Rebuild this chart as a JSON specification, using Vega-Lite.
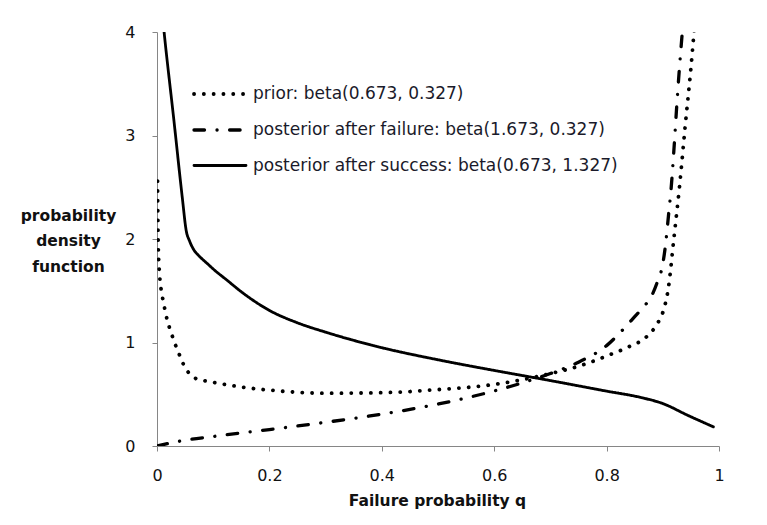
{
  "$schema": "https://vega.github.io/schema/vega-lite/v6.json",
  "width": 562,
  "height": 414,
  "autosize": {"type": "none"},
  "padding": {"left": 157, "top": 32, "right": 48, "bottom": 79},
  "background": "white",
  "config": {"view": {"stroke": null}, "font": "DejaVu Sans"},
  "data": {"values": [
    {"series": "prior: beta(0.673, 0.327)", "q": 0.001, "v": 2.56},
    {"series": "prior: beta(0.673, 0.327)", "q": 0.002, "v": 2.0},
    {"series": "prior: beta(0.673, 0.327)", "q": 0.004, "v": 1.70},
    {"series": "prior: beta(0.673, 0.327)", "q": 0.006, "v": 1.57},
    {"series": "prior: beta(0.673, 0.327)", "q": 0.008, "v": 1.49},
    {"series": "prior: beta(0.673, 0.327)", "q": 0.011, "v": 1.40},
    {"series": "prior: beta(0.673, 0.327)", "q": 0.014, "v": 1.32},
    {"series": "prior: beta(0.673, 0.327)", "q": 0.018, "v": 1.22},
    {"series": "prior: beta(0.673, 0.327)", "q": 0.023, "v": 1.13},
    {"series": "prior: beta(0.673, 0.327)", "q": 0.028, "v": 1.05},
    {"series": "prior: beta(0.673, 0.327)", "q": 0.034, "v": 0.96},
    {"series": "prior: beta(0.673, 0.327)", "q": 0.040, "v": 0.88},
    {"series": "prior: beta(0.673, 0.327)", "q": 0.047, "v": 0.79},
    {"series": "prior: beta(0.673, 0.327)", "q": 0.056, "v": 0.71},
    {"series": "prior: beta(0.673, 0.327)", "q": 0.068, "v": 0.655},
    {"series": "prior: beta(0.673, 0.327)", "q": 0.085, "v": 0.63},
    {"series": "prior: beta(0.673, 0.327)", "q": 0.1, "v": 0.615},
    {"series": "prior: beta(0.673, 0.327)", "q": 0.15, "v": 0.57},
    {"series": "prior: beta(0.673, 0.327)", "q": 0.2, "v": 0.54},
    {"series": "prior: beta(0.673, 0.327)", "q": 0.3, "v": 0.51},
    {"series": "prior: beta(0.673, 0.327)", "q": 0.4, "v": 0.515},
    {"series": "prior: beta(0.673, 0.327)", "q": 0.5, "v": 0.545},
    {"series": "prior: beta(0.673, 0.327)", "q": 0.6, "v": 0.595},
    {"series": "prior: beta(0.673, 0.327)", "q": 0.7, "v": 0.70},
    {"series": "prior: beta(0.673, 0.327)", "q": 0.75, "v": 0.77},
    {"series": "prior: beta(0.673, 0.327)", "q": 0.8, "v": 0.87},
    {"series": "prior: beta(0.673, 0.327)", "q": 0.84, "v": 0.96},
    {"series": "prior: beta(0.673, 0.327)", "q": 0.87, "v": 1.05},
    {"series": "prior: beta(0.673, 0.327)", "q": 0.89, "v": 1.18},
    {"series": "prior: beta(0.673, 0.327)", "q": 0.9, "v": 1.29},
    {"series": "prior: beta(0.673, 0.327)", "q": 0.91, "v": 1.53},
    {"series": "prior: beta(0.673, 0.327)", "q": 0.92, "v": 2.02},
    {"series": "prior: beta(0.673, 0.327)", "q": 0.93, "v": 2.52},
    {"series": "prior: beta(0.673, 0.327)", "q": 0.94, "v": 3.10},
    {"series": "prior: beta(0.673, 0.327)", "q": 0.95, "v": 3.65},
    {"series": "prior: beta(0.673, 0.327)", "q": 0.96, "v": 4.3},
    {"series": "posterior after failure: beta(1.673, 0.327)", "q": 0.0, "v": 0.0},
    {"series": "posterior after failure: beta(1.673, 0.327)", "q": 0.05, "v": 0.056},
    {"series": "posterior after failure: beta(1.673, 0.327)", "q": 0.1, "v": 0.092},
    {"series": "posterior after failure: beta(1.673, 0.327)", "q": 0.2, "v": 0.159},
    {"series": "posterior after failure: beta(1.673, 0.327)", "q": 0.3, "v": 0.229},
    {"series": "posterior after failure: beta(1.673, 0.327)", "q": 0.4, "v": 0.308},
    {"series": "posterior after failure: beta(1.673, 0.327)", "q": 0.5, "v": 0.405},
    {"series": "posterior after failure: beta(1.673, 0.327)", "q": 0.6, "v": 0.532},
    {"series": "posterior after failure: beta(1.673, 0.327)", "q": 0.65, "v": 0.61},
    {"series": "posterior after failure: beta(1.673, 0.327)", "q": 0.7, "v": 0.70},
    {"series": "posterior after failure: beta(1.673, 0.327)", "q": 0.75, "v": 0.81},
    {"series": "posterior after failure: beta(1.673, 0.327)", "q": 0.8, "v": 0.97},
    {"series": "posterior after failure: beta(1.673, 0.327)", "q": 0.83, "v": 1.13},
    {"series": "posterior after failure: beta(1.673, 0.327)", "q": 0.85, "v": 1.25},
    {"series": "posterior after failure: beta(1.673, 0.327)", "q": 0.87, "v": 1.37},
    {"series": "posterior after failure: beta(1.673, 0.327)", "q": 0.88, "v": 1.45},
    {"series": "posterior after failure: beta(1.673, 0.327)", "q": 0.89, "v": 1.58},
    {"series": "posterior after failure: beta(1.673, 0.327)", "q": 0.9, "v": 1.76},
    {"series": "posterior after failure: beta(1.673, 0.327)", "q": 0.905, "v": 1.95},
    {"series": "posterior after failure: beta(1.673, 0.327)", "q": 0.91, "v": 2.22},
    {"series": "posterior after failure: beta(1.673, 0.327)", "q": 0.915, "v": 2.5},
    {"series": "posterior after failure: beta(1.673, 0.327)", "q": 0.92, "v": 2.88},
    {"series": "posterior after failure: beta(1.673, 0.327)", "q": 0.925, "v": 3.3},
    {"series": "posterior after failure: beta(1.673, 0.327)", "q": 0.93, "v": 3.68},
    {"series": "posterior after failure: beta(1.673, 0.327)", "q": 0.935, "v": 4.02},
    {"series": "posterior after failure: beta(1.673, 0.327)", "q": 0.94, "v": 4.35},
    {"series": "posterior after success: beta(0.673, 1.327)", "q": 0.008, "v": 4.25},
    {"series": "posterior after success: beta(0.673, 1.327)", "q": 0.013, "v": 3.98},
    {"series": "posterior after success: beta(0.673, 1.327)", "q": 0.03, "v": 3.15},
    {"series": "posterior after success: beta(0.673, 1.327)", "q": 0.045, "v": 2.40},
    {"series": "posterior after success: beta(0.673, 1.327)", "q": 0.052, "v": 2.08},
    {"series": "posterior after success: beta(0.673, 1.327)", "q": 0.058, "v": 1.98},
    {"series": "posterior after success: beta(0.673, 1.327)", "q": 0.065, "v": 1.90},
    {"series": "posterior after success: beta(0.673, 1.327)", "q": 0.076, "v": 1.83},
    {"series": "posterior after success: beta(0.673, 1.327)", "q": 0.09, "v": 1.76},
    {"series": "posterior after success: beta(0.673, 1.327)", "q": 0.1, "v": 1.71},
    {"series": "posterior after success: beta(0.673, 1.327)", "q": 0.125, "v": 1.60},
    {"series": "posterior after success: beta(0.673, 1.327)", "q": 0.15, "v": 1.49},
    {"series": "posterior after success: beta(0.673, 1.327)", "q": 0.2, "v": 1.31},
    {"series": "posterior after success: beta(0.673, 1.327)", "q": 0.25, "v": 1.19},
    {"series": "posterior after success: beta(0.673, 1.327)", "q": 0.3, "v": 1.10},
    {"series": "posterior after success: beta(0.673, 1.327)", "q": 0.4, "v": 0.95},
    {"series": "posterior after success: beta(0.673, 1.327)", "q": 0.5, "v": 0.833},
    {"series": "posterior after success: beta(0.673, 1.327)", "q": 0.6, "v": 0.73},
    {"series": "posterior after success: beta(0.673, 1.327)", "q": 0.7, "v": 0.632},
    {"series": "posterior after success: beta(0.673, 1.327)", "q": 0.8, "v": 0.53},
    {"series": "posterior after success: beta(0.673, 1.327)", "q": 0.86, "v": 0.47},
    {"series": "posterior after success: beta(0.673, 1.327)", "q": 0.9, "v": 0.41},
    {"series": "posterior after success: beta(0.673, 1.327)", "q": 0.945, "v": 0.295},
    {"series": "posterior after success: beta(0.673, 1.327)", "q": 0.99, "v": 0.185}
  ]},
  "mark": {"type": "line", "clip": true, "interpolate": "monotone", "color": "black", "strokeCap": "round"},
  "encoding": {
    "x": {
      "field": "q", "type": "quantitative",
      "scale": {"domain": [0, 1], "nice": false, "zero": false},
      "axis": {
        "title": "Failure probability q",
        "values": [0, 0.2, 0.4, 0.6, 0.8, 1],
        "format": "~g",
        "grid": false,
        "domainColor": "#868686", "tickColor": "#868686", "tickSize": 5,
        "labelFlush": false,
        "labelFont": "DejaVu Sans", "labelFontSize": 16, "labelColor": "#111111",
        "labelBaseline": "alphabetic", "labelPadding": 29.5,
        "titleFont": "DejaVu Sans", "titleFontSize": 15.5, "titleFontWeight": "bold", "titleColor": "#111111",
        "titleBaseline": "alphabetic", "titleY": 59, "titleX": 280, "titleAlign": "center"
      }
    },
    "y": {
      "field": "v", "type": "quantitative",
      "scale": {"domain": [0, 4], "nice": false},
      "axis": {
        "title": ["probability", "density", "function"],
        "values": [0, 1, 2, 3, 4],
        "format": "d",
        "grid": false,
        "domainColor": "#868686", "tickColor": "#868686", "tickSize": 5,
        "labelFlush": false,
        "labelFont": "DejaVu Sans", "labelFontSize": 16, "labelColor": "#111111",
        "labelPadding": 17,
        "titleFont": "DejaVu Sans", "titleFontSize": 15.5, "titleFontWeight": "bold", "titleColor": "#111111",
        "titleAngle": 0, "titleAlign": "center", "titleBaseline": "alphabetic",
        "titleX": -89, "titleY": 188, "titleLineHeight": 25.5
      }
    },
    "strokeDash": {
      "field": "series", "type": "nominal",
      "scale": {
        "domain": ["prior: beta(0.673, 0.327)", "posterior after failure: beta(1.673, 0.327)", "posterior after success: beta(0.673, 1.327)"],
        "range": [[0.1, 9.7], [10.5, 12.5, 0.1, 12.5], [1, 0]]
      },
      "legend": {
        "title": null,
        "orient": "none",
        "legendX": 35,
        "legendY": 34,
        "padding": 0,
        "symbolType": "stroke",
        "symbolSize": 2704,
        "symbolStrokeColor": "black",
        "labelFont": "DejaVu Sans",
        "labelFontSize": 17,
        "labelColor": "#1a1a2a",
        "labelLimit": 500,
        "labelOffset": 5,
        "rowPadding": -19.3,
        "encode": {"symbols": {"update": {"strokeCap": {"value": "round"}}}}
      }
    },
    "strokeWidth": {
      "field": "series", "type": "nominal",
      "scale": {
        "domain": ["prior: beta(0.673, 0.327)", "posterior after failure: beta(1.673, 0.327)", "posterior after success: beta(0.673, 1.327)"],
        "range": [3.8, 2.8, 2.7]
      },
      "legend": {
        "title": null,
        "orient": "none",
        "legendX": 35,
        "legendY": 34,
        "padding": 0,
        "symbolType": "stroke",
        "symbolSize": 2704,
        "symbolStrokeColor": "black",
        "labelFont": "DejaVu Sans",
        "labelFontSize": 17,
        "labelColor": "#1a1a2a",
        "labelLimit": 500,
        "labelOffset": 5,
        "rowPadding": -19.3,
        "encode": {"symbols": {"update": {"strokeCap": {"value": "round"}}}}
      }
    }
  }
}
